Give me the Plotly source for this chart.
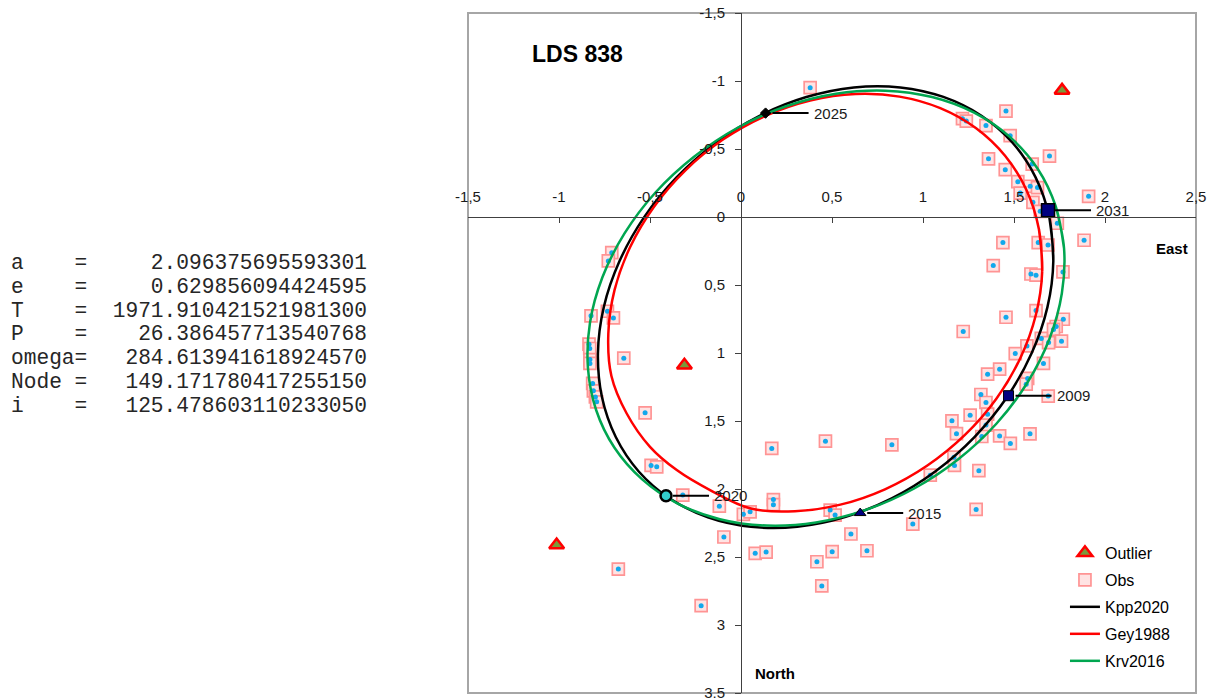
import plotly.graph_objects as go

# ---------------- data ----------------
# Orbit curves: East (x) and North (y) offsets in arcsec (closed loops)
kpp_east = [1.716, 1.694, 1.618, 1.492, 1.321, 1.112, 0.875, 0.620, 0.359, 0.102,
            -0.139, -0.354, -0.533, -0.668, -0.754, -0.786, -0.764, -0.688, -0.562, -0.391,
            -0.182, 0.055, 0.309, 0.571, 0.828, 1.069, 1.284, 1.463, 1.598, 1.684,
            1.716, 1.694]
kpp_north = [0.323, 0.001, -0.293, -0.546, -0.745, -0.883, -0.953, -0.953, -0.882, -0.744,
             -0.544, -0.291, 0.003, 0.326, 0.664, 1.001, 1.324, 1.618, 1.871, 2.070,
             2.208, 2.278, 2.278, 2.207, 2.069, 1.869, 1.616, 1.322, 0.999, 0.661,
             0.323, 0.001]

gey_east = [1.655, 1.637, 1.569, 1.452, 1.292, 1.095, 0.871, 0.629, 0.380, 0.134,
            -0.097, -0.304, -0.477, -0.609, -0.695, -0.729, -0.712, -0.628, -0.500, -0.353,
            -0.170, 0.054, 0.296, 0.546, 0.791, 1.022, 1.229, 1.403, 1.535, 1.620,
            1.655, 1.637]
gey_north = [0.400, 0.090, -0.197, -0.448, -0.652, -0.800, -0.885, -0.904, -0.856, -0.743,
             -0.571, -0.345, -0.077, 0.221, 0.538, 0.858, 1.169, 1.445, 1.690, 1.861,
             2.008, 2.144, 2.163, 2.115, 2.002, 1.829, 1.604, 1.336, 1.037, 0.721,
             0.400, 0.090]

krv_east = [1.775, 1.729, 1.629, 1.477, 1.281, 1.050, 0.793, 0.522, 0.248, -0.016,
            -0.258, -0.470, -0.640, -0.762, -0.830, -0.841, -0.796, -0.695, -0.543, -0.348,
            -0.116, 0.140, 0.412, 0.685, 0.949, 1.192, 1.403, 1.573, 1.695, 1.763,
            1.775, 1.729]
krv_north = [0.231, -0.079, -0.357, -0.589, -0.767, -0.882, -0.929, -0.906, -0.814, -0.658,
             -0.443, -0.180, 0.121, 0.445, 0.779, 1.109, 1.419, 1.697, 1.929, 2.107,
             2.222, 2.269, 2.246, 2.154, 1.998, 1.783, 1.520, 1.219, 0.895, 0.561,
             0.231, -0.079]

# Observations
obs_east = [0.380, 1.456, 1.217, 1.238, 1.346, 1.479, 1.695, 1.360, 1.452, 1.600,
            1.521, 1.589, 1.629, 1.534, 1.604, 1.644, 1.910, 1.738, 1.439, 1.633,
            1.687, 1.885, 1.386, 1.593, 1.621, 1.769, 1.621, 1.456, 1.771, 1.732,
            1.717, 1.650, 1.690, 1.761, 1.221, 1.571, 1.507, 1.662, 1.421, 1.355,
            1.575, 1.567, 1.688, 1.318, 1.346, 1.259, 1.355, 1.346, 1.159, 1.184,
            1.323, 1.421, 1.480, 1.588, 0.829, 1.170, 1.173, 1.307, 1.040, 1.292,
            0.944, 0.604, 0.692, -0.494, -0.463, -0.320, -0.119, 0.178, 0.178, 0.013,
            0.050, 0.490, 0.517, -0.094, 0.078, 0.138, 0.417, 0.501, 0.444, -0.674,
            -0.219, 0.169, 0.464, -0.710, -0.729, -0.824, -0.734, -0.701, -0.835, -0.831,
            -0.830, -0.830, -0.644, -0.815, -0.811, -0.800, -0.793, -0.527]
obs_north = [-0.951, -0.779, -0.723, -0.705, -0.672, -0.598, -0.448, -0.428, -0.348, -0.389,
             -0.260, -0.226, -0.216, -0.176, -0.108, -0.042, -0.152, 0.046, 0.188, 0.188,
             0.206, 0.171, 0.357, 0.419, 0.428, 0.404, 0.688, 0.737, 0.752, 0.805,
             0.827, 0.893, 0.923, 0.913, 0.842, 0.948, 1.004, 1.077, 1.119, 1.156,
             1.187, 1.229, 1.317, 1.305, 1.364, 1.457, 1.450, 1.530, 1.499, 1.593,
             1.614, 1.610, 1.665, 1.594, 1.675, 1.766, 1.827, 1.865, 1.898, 2.150,
             2.258, 2.331, 2.454, 1.827, 1.837, 2.045, 2.126, 2.078, 2.115, 2.186,
             2.168, 2.155, 2.192, 2.353, 2.473, 2.464, 2.535, 2.461, 2.713, 2.589,
             2.858, 1.702, 1.648, 0.262, 0.323, 0.727, 0.693, 0.742, 0.935, 0.967,
             1.048, 1.077, 1.038, 1.224, 1.278, 1.323, 1.359, 1.440]

# Outliers
out_east = [1.764, -0.311, -1.013]
out_north = [-0.931, 1.090, 2.412]

# Ephemeris positions on the Kpp2020 orbit
eph_years = ["2025", "2031", "2009", "2020", "2015"]
eph_east = [0.135, 1.687, 1.470, -0.412, 0.655]
eph_north = [-0.764, -0.049, 1.314, 2.050, 2.177]

# Orbital elements text
param_names = ["a", "e", "T", "P", "omega", "Node", "i"]
param_values = ["2.096375695593301", "0.629856094424595", "1971.910421521981300",
                "26.386457713540768", "284.613941618924570", "149.171780417255150",
                "125.478603110233050"]

# Ticks
x_tick_vals = [-1.5, -1.0, -0.5, 0.0, 0.5, 1.0, 1.5, 2.0, 2.5]
x_tick_text = ["-1,5", "-1", "-0,5", "0", "0,5", "1", "1,5", "2", "2,5"]
y_tick_vals = [-1.5, -1.0, -0.5, 0.0, 0.5, 1.0, 1.5, 2.0, 2.5, 3.0, 3.5]
y_tick_text = ["-1,5", "-1", "-0,5", "0", "0,5", "1", "1,5", "2", "2,5", "3", "3,5"]

title_text = "LDS 838"
x_title = "East"
y_title = "North"

# ---------------- styles ----------------
SANS = "Liberation Sans, Arial, sans-serif"
MONO = "Liberation Mono, Courier New, monospace"
eph_style = {
    "2025": dict(symbol="diamond", size=8, color="#000000", line=dict(color="#000000", width=1)),
    "2031": dict(symbol="square", size=13, color="#000080", line=dict(color="#000000", width=1.5)),
    "2009": dict(symbol="square", size=10, color="#000080", line=dict(color="#000000", width=1)),
    "2020": dict(symbol="circle", size=11, color="#33CCCC", line=dict(color="#000000", width=2.5)),
    "2015": dict(symbol="triangle-up", size=10, color="#000080", line=dict(color="#000000", width=1)),
}

fig = go.Figure()

fig.add_trace(go.Scatter(
    x=out_east, y=out_north, mode="markers", name="Outlier", legendgroup="g1",
    marker=dict(symbol="triangle-up", size=13, color="#7A9A3A",
                line=dict(color="#FF0000", width=2.5)),
    hoverinfo="skip"))

fig.add_trace(go.Scatter(
    x=obs_east, y=obs_north, mode="markers", name="Obs", legendgroup="g2",
    marker=dict(symbol="square", size=12, color="#FFE3E3",
                line=dict(color="#FF9494", width=1.7)),
    hoverinfo="skip"))
fig.add_trace(go.Scatter(
    x=obs_east, y=obs_north, mode="markers", showlegend=False, legendgroup="g2",
    marker=dict(symbol="circle", size=5, color="#12A8EC", line=dict(width=0)),
    hoverinfo="skip"))

for k, (name, xs, ys, col) in enumerate([("Kpp2020", kpp_east, kpp_north, "#000000"),
                                         ("Gey1988", gey_east, gey_north, "#FF0000"),
                                         ("Krv2016", krv_east, krv_north, "#00A650")]):
    fig.add_trace(go.Scatter(
        x=xs, y=ys, mode="lines", name=name, legendgroup="g%d" % (k + 3),
        line=dict(color=col, width=2.5, shape="spline", smoothing=1.0),
        hoverinfo="skip"))

for yr, ex, ny in zip(eph_years, eph_east, eph_north):
    fig.add_trace(go.Scatter(
        x=[ex], y=[ny], mode="markers", showlegend=False,
        marker=eph_style[yr], hoverinfo="skip"))

annotations = []
for yr, ex, ny in zip(eph_years, eph_east, eph_north):
    annotations.append(dict(
        x=ex, y=ny, xref="x", yref="y", text=yr, showarrow=True,
        ax=43, ay=0, axref="pixel", ayref="pixel", xanchor="left",
        arrowhead=0, arrowwidth=2, arrowcolor="#000000", standoff=7,
        borderpad=4, font=dict(family=SANS, size=15, color="#1a1a1a")))

annotations.append(dict(x=-0.898, y=-1.199, xref="x", yref="y", text="<b>%s</b>" % title_text,
                        showarrow=False, xanchor="center", yanchor="middle",
                        font=dict(family=SANS, size=23, color="#000000")))
annotations.append(dict(x=2.370, y=0.232, xref="x", yref="y", text="<b>%s</b>" % x_title,
                        showarrow=False, xanchor="center", yanchor="middle",
                        font=dict(family=SANS, size=15, color="#000000")))
annotations.append(dict(x=0.186, y=3.358, xref="x", yref="y", text="<b>%s</b>" % y_title,
                        showarrow=False, xanchor="center", yanchor="middle",
                        font=dict(family=SANS, size=15, color="#000000")))

line_px = [262.7, 286.6, 310.5, 334.4, 358.3, 382.2, 406.1]
for k, (nm, val) in enumerate(zip(param_names, param_values)):
    s = (nm.ljust(5) + "=" + val.rjust(22)).replace(" ", "\u00a0")
    annotations.append(dict(
        x=(9 - 468) / 728.0, y=(693 - line_px[k]) / 680.0, xref="paper", yref="paper",
        text=s, showarrow=False, xanchor="left", yanchor="middle",
        font=dict(family=MONO, size=21.2, color="#262626")))

axis_font = dict(family=SANS, size=15, color="#1a1a1a")
common = dict(showgrid=False, zeroline=False, automargin=False, fixedrange=True)

fig.update_layout(
    width=1215, height=698, template="none",
    margin=dict(l=468, r=19, t=13, b=5, pad=0, autoexpand=False),
    paper_bgcolor="white", plot_bgcolor="white",
    showlegend=True,
    legend=dict(x=0.82, y=0.231, xanchor="left", yanchor="top",
                bgcolor="rgba(0,0,0,0)", borderwidth=0, tracegroupgap=3.2,
                traceorder="grouped",
                font=dict(family=SANS, size=16, color="#000000")),
    xaxis=dict(range=[-1.5, 2.5], anchor="free", position=0.7, side="top",
               showline=True, linecolor="#404040", linewidth=1,
               ticks="inside", ticklen=5, tickwidth=1, tickcolor="#404040",
               tickmode="array", tickvals=x_tick_vals, ticktext=x_tick_text,
               tickfont=axis_font, ticklabelstandoff=9, ticklabeloverflow="allow", **common),
    yaxis=dict(range=[3.5, -1.5], anchor="free", position=0.375, side="left",
               showline=True, linecolor="#404040", linewidth=1,
               ticks="outside", ticklen=6, tickwidth=1, tickcolor="#404040",
               tickmode="array", tickvals=y_tick_vals, ticktext=y_tick_text,
               tickfont=axis_font, ticklabelstandoff=7, ticklabeloverflow="allow", **common),
    xaxis2=dict(range=[-1.5, 2.5], overlaying="x", anchor="free", position=0.7, side="top",
                showline=False, ticks="outside", ticklen=5, tickwidth=1, tickcolor="#404040",
                tickmode="array", tickvals=x_tick_vals, showticklabels=False, **common),
    yaxis2=dict(range=[3.5, -1.5], overlaying="y", anchor="free", position=0.375, side="left",
                showline=False, ticks="inside", ticklen=5, tickwidth=1, tickcolor="#404040",
                tickmode="array", tickvals=y_tick_vals, showticklabels=False, **common),
    shapes=[dict(type="rect", xref="paper", yref="paper", x0=0, y0=0, x1=1, y1=1,
                 line=dict(color="#A6A6A6", width=2), layer="below")],
    annotations=annotations,
)

fig.write_html("out.html")
